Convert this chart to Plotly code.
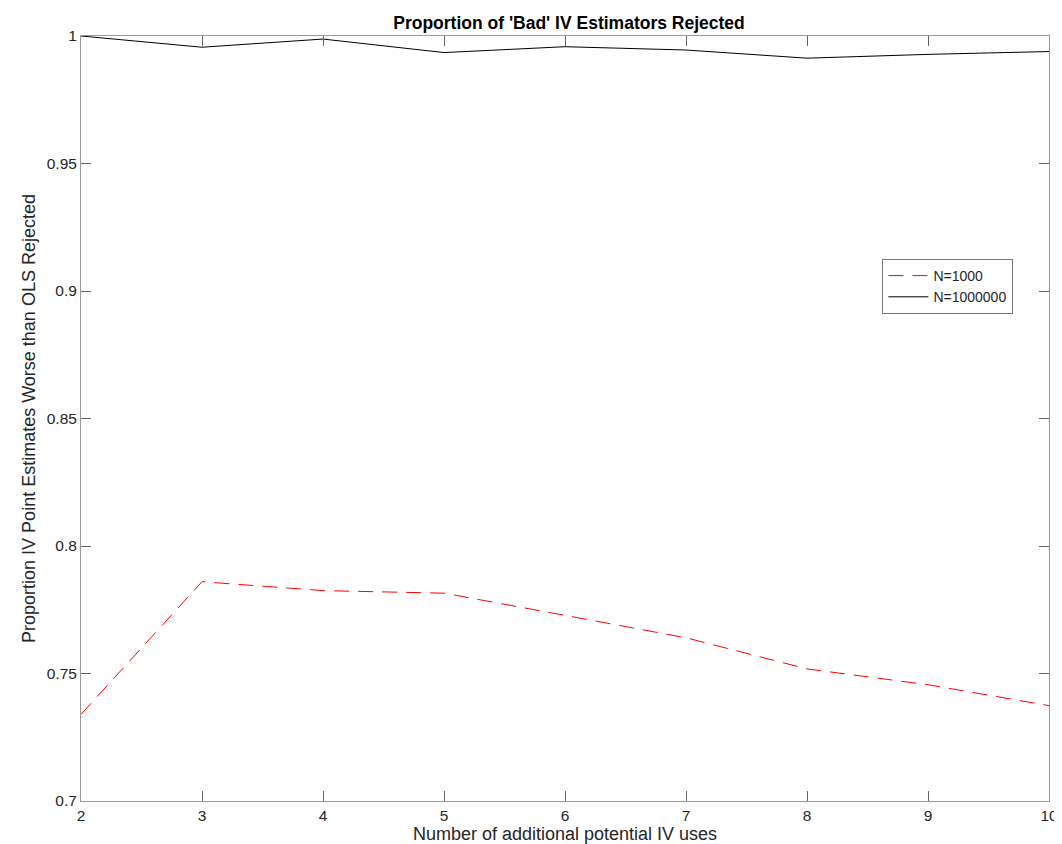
import plotly.graph_objects as go

x_vals = [2, 3, 4, 5, 6, 7, 8, 9, 10]
n1000 = [0.734, 0.786, 0.7825, 0.7815, 0.7728, 0.764, 0.7518, 0.7456, 0.7374]
n1000000 = [1.0, 0.9956, 0.9988, 0.9935, 0.9958, 0.9945, 0.9913, 0.9928, 0.9939]
y_ticks = [0.7, 0.75, 0.8, 0.85, 0.9, 0.95, 1.0]
y_ticktext = ["0.7", "0.75", "0.8", "0.85", "0.9", "0.95", "1"]

FONT = "Liberation Sans, Arial, Helvetica, sans-serif"
AXLINE = "#999999"
TICK = "#666666"

fig = go.Figure()
fig.add_trace(go.Scatter(x=x_vals, y=n1000, mode="lines", name="N=1000",
                         line=dict(color="#ff0000", width=1, dash="15px,9px")))
fig.add_trace(go.Scatter(x=x_vals, y=n1000000, mode="lines", name="N=1000000",
                         line=dict(color="#000000", width=1)))

L, R, T, B = 73, 13, 28, 51
fig.update_layout(
    width=1062, height=844,
    margin=dict(l=L, r=R, t=T, b=B),
    paper_bgcolor="white", plot_bgcolor="white",
    font=dict(family=FONT, size=15, color="#262626"),
    title=dict(text="<b>Proportion of 'Bad' IV Estimators Rejected</b>",
               x=(L + 1062 - R) / 2 / 1062, xanchor="center",
               y=1 - 15 / 844, yanchor="middle",
               font=dict(size=17.5, color="#000000")),
    showlegend=True,
    legend=dict(x=(881 - L) / (1062 - L - R), y=(844 - B - 251) / (844 - T - B),
                xanchor="left", yanchor="top",
                bgcolor="white", bordercolor="#777777", borderwidth=1,
                font=dict(size=14, color="#262626"),
                itemwidth=40, tracegroupgap=0),
)
fig.update_xaxes(
    range=[2, 10], tickvals=x_vals, ticktext=[str(v) for v in x_vals],
    showgrid=False, zeroline=False,
    showline=True, linecolor=AXLINE, linewidth=1, mirror="ticks",
    ticks="inside", ticklen=10, tickcolor=TICK, tickwidth=1,
    tickfont=dict(size=15.5, color="#262626"),
    title=dict(text="Number of additional potential IV uses", standoff=4,
               font=dict(size=18, color="#262626")),
)
fig.update_yaxes(
    range=[0.7, 1.0], tickvals=y_ticks, ticktext=y_ticktext,
    showgrid=False, zeroline=False,
    showline=True, linecolor=AXLINE, linewidth=1, mirror="ticks",
    ticks="inside", ticklen=10, tickcolor=TICK, tickwidth=1,
    tickfont=dict(size=15.5, color="#262626"),
    title=dict(text="Proportion IV Point Estimates Worse than OLS Rejected", standoff=6,
               font=dict(size=18, color="#262626")),
)

fig.write_html("out.html")
